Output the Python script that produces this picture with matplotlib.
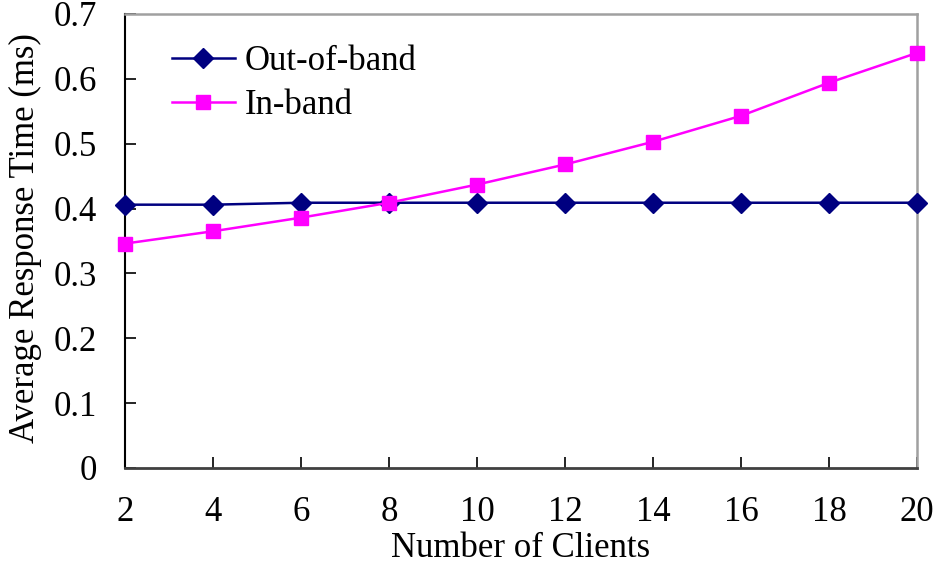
import matplotlib
matplotlib.use("Agg")
import matplotlib.pyplot as plt

clients = [2, 4, 6, 8, 10, 12, 14, 16, 18, 20]
out_of_band = [0.406, 0.406, 0.409, 0.409, 0.409, 0.409, 0.409, 0.409, 0.409, 0.409]
in_band = [0.346, 0.365, 0.386, 0.409, 0.437, 0.468, 0.503, 0.543, 0.594, 0.640]
yticks = [0, 0.1, 0.2, 0.3, 0.4, 0.5, 0.6, 0.7]
ytick_labels = ["0", "0.1", "0.2", "0.3", "0.4", "0.5", "0.6", "0.7"]

plt.rcParams['font.family'] = ['Liberation Serif', 'DejaVu Serif']

FS = 25
W, H = 935, 572
fig = plt.figure(figsize=(W / 100, H / 100), dpi=100)
L, R, B, T = 125, 917, 468, 14
ax = fig.add_axes([L / W, (H - B) / H, (R - L) / W, (B - T) / H])

ax.plot(clients, out_of_band, color='#000080', marker='D', markersize=10,
        linewidth=1.8, label='Out-of-band', clip_on=False, zorder=3)
ax.plot(clients, in_band, color='#FF00FF', marker='s', markersize=9.5,
        linewidth=1.8, label='In-band', clip_on=False, zorder=4)

ax.set_xlim(2, 20)
ax.set_ylim(0, 0.7)
ax.set_xticks(clients)
ax.set_yticks(yticks)
ax.set_yticklabels(ytick_labels)

ax.tick_params(axis='both', direction='in', length=8, width=1.2, labelsize=FS, colors='black')
ax.tick_params(axis='y', pad=20)
ax.tick_params(axis='x', pad=20)

ax.spines['left'].set_color('black')
ax.spines['left'].set_linewidth(1.5)
ax.spines['bottom'].set_color('#404040')
ax.spines['bottom'].set_linewidth(2)
for s in ['top', 'right']:
    ax.spines[s].set_color('#A0A0A0')
    ax.spines[s].set_linewidth(1.8)

ax.set_xlabel('Number of Clients', fontsize=FS, labelpad=2)
ylab = ax.set_ylabel('Average Response Time (ms)', fontsize=FS)
ylab.set_ha('left')
ax.yaxis.set_label_coords(-0.105, (B - 443) / (B - T))

leg = ax.legend(loc='upper left', bbox_to_anchor=(0.02, 1.0), frameon=False,
                fontsize=FS, handlelength=1.8, labelspacing=0.3, handletextpad=0.3)

fig.savefig('out.png', dpi=100)
